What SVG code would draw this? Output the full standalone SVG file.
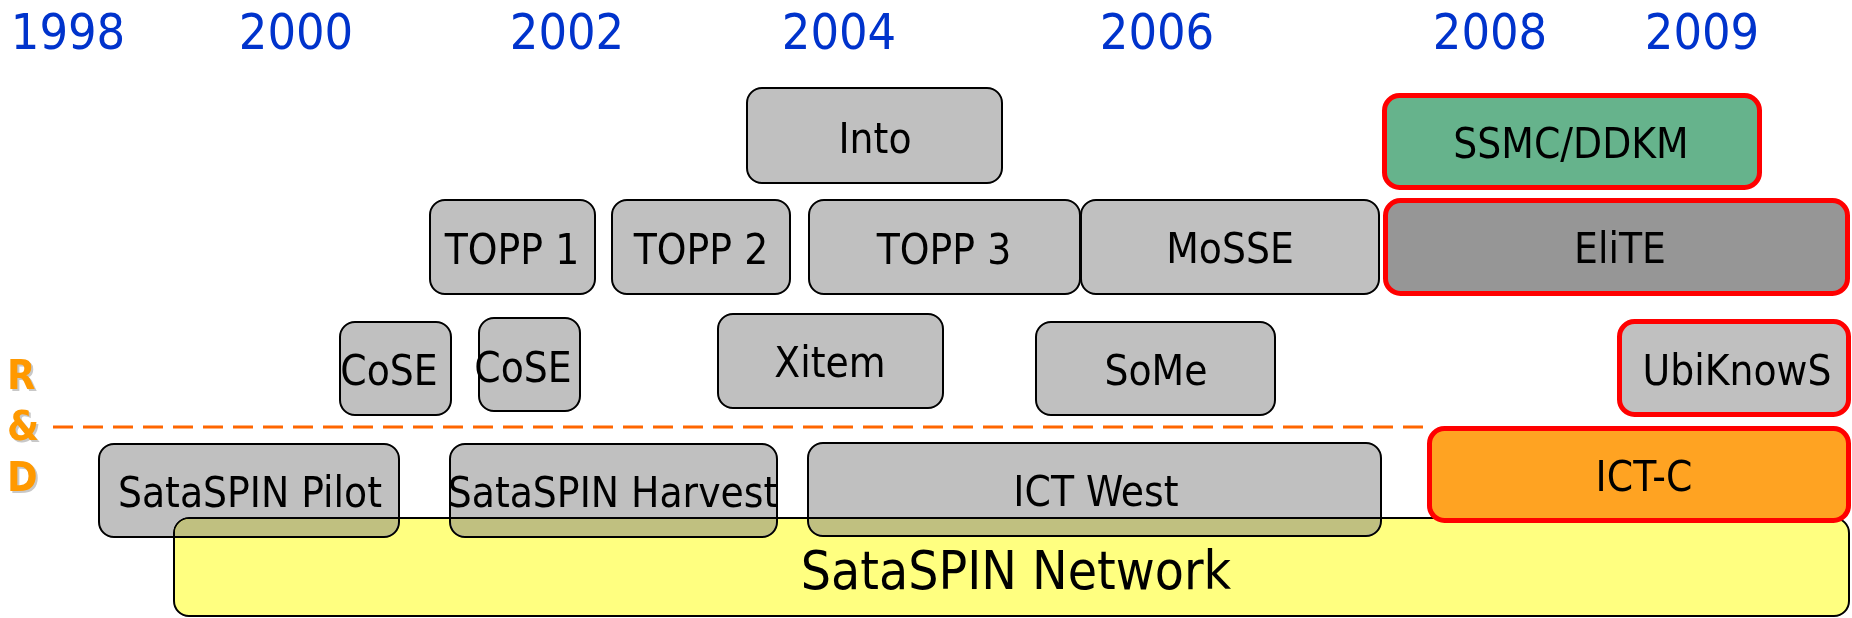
<svg xmlns="http://www.w3.org/2000/svg" width="1852" height="618" viewBox="0 0 1852 618">
<style>
text{font-family:"DejaVu Sans Condensed","DejaVu Sans","Liberation Sans",sans-serif;font-stretch:condensed}
.yr{font-size:50px;fill:#0033cc;text-anchor:middle}
.lbl{font-size:42px;fill:#000;text-anchor:middle}
.box{fill:#c0c0c0;stroke:#000;stroke-width:2}
.hl{stroke:#ff0000;stroke-width:5}
.rd{font-size:41px;font-weight:bold;fill:#ff9900}
.rds{font-size:41px;font-weight:bold;fill:#c8c8c8}
.blend{mix-blend-mode:darken}
</style>
<rect width="1852" height="618" fill="#ffffff"/>
<g id="years">
<text class="yr" x="68" y="49">1998</text>
<text class="yr" x="296" y="49">2000</text>
<text class="yr" x="567" y="49">2002</text>
<text class="yr" x="839" y="49">2004</text>
<text class="yr" x="1157" y="49">2006</text>
<text class="yr" x="1490" y="49">2008</text>
<text class="yr" x="1702" y="49">2009</text>
</g>
<g id="rd-label">
<text class="rds" x="9" y="391">R</text>
<text class="rds" x="9" y="442">&amp;</text>
<text class="rds" x="9" y="493">D</text>
<text class="rd" x="7" y="389">R</text>
<text class="rd" x="7" y="440">&amp;</text>
<text class="rd" x="7" y="491">D</text>
</g>
<g id="into"><rect class="box" x="747" y="88" width="255" height="95" rx="15"/><text class="lbl" x="875" y="153">Into</text></g>
<g id="ssmc"><rect class="hl" fill="#66b38c" x="1384.5" y="95.5" width="375" height="92" rx="15"/><text class="lbl" x="1571" y="158">SSMC/DDKM</text></g>
<g id="topp1"><rect class="box" x="430" y="200" width="165" height="94" rx="15"/><text class="lbl" x="512" y="264">TOPP 1</text></g>
<g id="topp2"><rect class="box" x="612" y="200" width="178" height="94" rx="15"/><text class="lbl" x="701" y="264">TOPP 2</text></g>
<g id="topp3"><rect class="box" x="809" y="200" width="271" height="94" rx="15"/><text class="lbl" x="944" y="264">TOPP 3</text></g>
<g id="mosse"><rect class="box" x="1081" y="200" width="298" height="94" rx="15"/><text class="lbl" x="1230" y="263">MoSSE</text></g>
<g id="elite"><rect class="hl" fill="#969696" x="1385.5" y="200.5" width="462" height="93" rx="15"/><text class="lbl" x="1620" y="263">EliTE</text></g>
<g id="cose1"><rect class="box" x="340" y="322" width="111" height="93" rx="15"/><text class="lbl" x="389" y="385">CoSE</text></g>
<g id="cose2"><rect class="box" x="479" y="318" width="101" height="93" rx="15"/><text class="lbl" x="523" y="382">CoSE</text></g>
<g id="xitem"><rect class="box" x="718" y="314" width="225" height="94" rx="15"/><text class="lbl" x="830" y="377">Xitem</text></g>
<g id="some"><rect class="box" x="1036" y="322" width="239" height="93" rx="15"/><text class="lbl" x="1156" y="385">SoMe</text></g>
<g id="ubiknows"><rect class="hl" fill="#c0c0c0" x="1619.5" y="321.5" width="229" height="93" rx="15"/><text class="lbl" x="1737" y="385">UbiKnowS</text></g>
<g id="connectors">
<line x1="53" y1="427" x2="1429" y2="427" stroke="#ff6600" stroke-width="3" stroke-dasharray="20 10"/>
</g>
<g id="network"><rect fill="#ffff80" stroke="#000" stroke-width="2" x="174" y="518" width="1675" height="98" rx="15"/><text x="1016" y="589" font-size="53" text-anchor="middle" fill="#000">SataSPIN Network</text></g>
<g id="pilot"><rect class="box blend" x="99" y="444" width="300" height="93" rx="15"/><text class="lbl" x="250" y="507">SataSPIN Pilot</text></g>
<g id="harvest"><rect class="box blend" x="450" y="444" width="327" height="93" rx="15"/><text class="lbl" x="613" y="507">SataSPIN Harvest</text></g>
<g id="ictwest"><rect class="box blend" x="808" y="443" width="573" height="93" rx="15"/><text class="lbl" x="1096" y="506">ICT West</text></g>
<g id="ictc"><rect class="hl" fill="#ffa322" x="1429.5" y="428.5" width="419" height="92" rx="15"/><text class="lbl" x="1644" y="491">ICT-C</text></g>
</svg>
